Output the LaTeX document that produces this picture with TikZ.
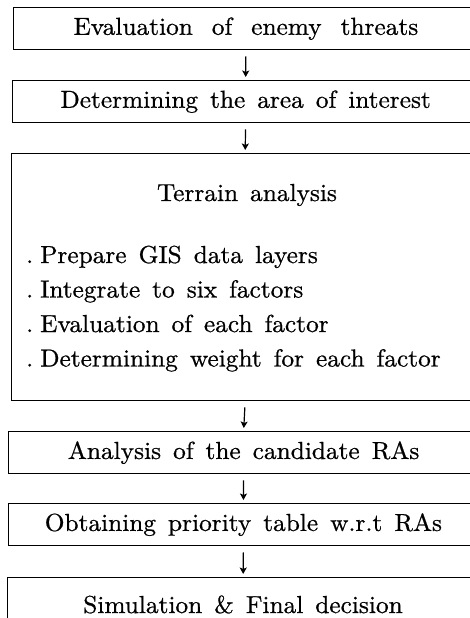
\documentclass[tikz,border=0pt]{standalone}
\usepackage{fontspec}
\usetikzlibrary{arrows.meta}
\newfontfamily\lmheavy{lmroman10-regular.otf}[FakeBold=0.7,FakeStretch=1.03]
\newcommand\bxfont{\lmheavy\fontsize{24.6}{30}\selectfont\setlength{\spaceskip}{12pt}}
\newcommand\widefont{\lmheavy\fontsize{24.6}{30}\selectfont\setlength{\spaceskip}{19pt}}
\tikzset{
  txt/.style={font=\bxfont, inner sep=0pt},
  box/.style={draw=black, line width=1.3pt, rectangle, anchor=north west, inner sep=0pt,
              font=\bxfont},
  arr/.style={line width=1.2pt, -{Stealth[length=6.5pt,width=7pt,inset=1.5pt]},
              shorten <=6pt, shorten >=3pt},
}
\begin{document}
\begin{tikzpicture}[x=1pt,y=-1pt]
\useasboundingbox[fill=white] (0,0) rectangle (470,618);
\clip (0,0) rectangle (470,618);
\node[box, font=\widefont, minimum width=465.5pt, minimum height=42pt] (b1) at (12.5,7) {Evaluation of enemy threats};
\node[box, minimum width=466pt, minimum height=42pt] (b2) at (12,80) {Determining the area of interest};
\node[box, minimum width=467pt, minimum height=247pt] (b3) at (11,153) {};
\node[box, minimum width=470pt, minimum height=42pt] (b4) at (8,431) {Analysis of the candidate RAs};
\node[box, minimum width=470.5pt, minimum height=42pt] (b5) at (7.5,503) {Obtaining priority table w.r.t RAs};
\node[box, minimum width=471pt, minimum height=46pt] (b6) at (7,577) {};
\node[txt, anchor=base] (b6t) at (243,613) {Simulation \& Final decision};
\node[txt, anchor=base] (t0) at (247,201) {Terrain analysis};
\node[txt, anchor=base west] (t1) at (26,263) {.\hspace{7pt}Prepare GIS data layers};
\node[txt, anchor=base west] (t2) at (26,297.5) {.\hspace{7pt}Integrate to six factors};
\node[txt, anchor=base west] (t3) at (26,332) {.\hspace{7pt}Evaluation of each factor};
\node[txt, anchor=base west] (t4) at (26,366.5) {.\hspace{7pt}Determining weight for each factor};
\draw[arr] (b1.south) -- (b2.north);
\draw[arr] (b2.south) -- (b3.north);
\draw[arr] (b3.south) -- (b4.north);
\draw[arr] (b4.south) -- (b5.north);
\draw[arr] (b5.south) -- (b6.north);
\end{tikzpicture}
\end{document}
